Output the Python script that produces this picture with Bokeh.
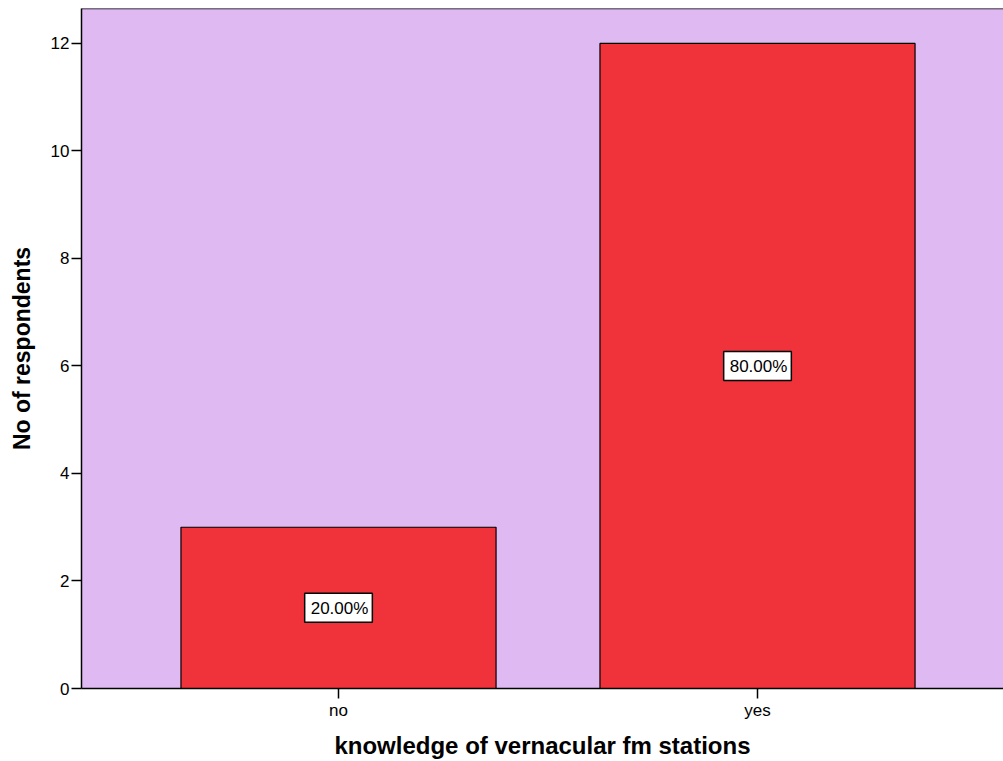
from bokeh.plotting import figure
from bokeh.models import (ColumnDataSource, Range1d, FixedTicker, Span)
from bokeh.core.properties import value
from bokeh.embed import file_html
from bokeh.resources import INLINE

# Survey counts
categories = ["no", "yes"]
respondents = [3, 12]
y_ticks = [0, 2, 4, 6, 8, 10, 12]

total = sum(respondents)
xpos = list(range(len(categories)))
pct_labels = [f"{v / total * 100:.2f}%" for v in respondents]
mid = [v / 2 for v in respondents]

source = ColumnDataSource(dict(x=xpos, top=respondents, mid=mid, label=pct_labels))

p = figure(width=1003, height=761, output_backend="svg", toolbar_location=None,
           x_range=Range1d(-0.6134, 1.5871), y_range=Range1d(0, 12.65),
           min_border_left=81, min_border_right=0, min_border_top=8,
           min_border_bottom=72)

p.background_fill_color = "#DFB9F2"
p.outline_line_color = None
p.grid.visible = False

p.vbar(x="x", top="top", width=0.752, bottom=0, source=source,
       fill_color="#F0323A", line_color="black", line_width=1.2)

# percentage boxes in the middle of each bar
p.text(x="x", y="mid", text="label", source=source,
       text_align="center", text_baseline="middle",
       text_font=value("Liberation Sans"), text_font_size=value("17px"),
       text_color="black", background_fill_color="white",
       border_line_color="black", border_line_width=1.5,
       padding=(6, 4, 6, 4))

# top border of the frame
p.add_layout(Span(location=12.65, dimension="width", line_color="black", line_width=1.5))

p.xaxis.ticker = FixedTicker(ticks=xpos)
p.xaxis.major_label_overrides = {i: c for i, c in zip(xpos, categories)}
p.xaxis.minor_tick_line_color = None
p.yaxis.ticker = FixedTicker(ticks=y_ticks)
p.yaxis.minor_tick_line_color = None

for ax in (p.xaxis, p.yaxis):
    ax.axis_line_color = "black"
    ax.axis_line_width = 1.5
    ax.major_tick_line_color = "black"
    ax.major_tick_line_width = 1.5
    ax.major_tick_in = 0
    ax.major_tick_out = 10
    ax.major_label_text_font = "Liberation Sans"
    ax.major_label_text_font_size = "17px"
    ax.major_label_text_color = "black"
    ax.axis_label_text_font = "Liberation Sans"
    ax.axis_label_text_font_style = "bold"
    ax.axis_label_text_color = "black"

p.xaxis.axis_label = "knowledge of vernacular fm stations"
p.yaxis.axis_label = "No of respondents"
p.xaxis.axis_label_text_font_size = "24px"
p.yaxis.axis_label_text_font_size = "23px"
p.xaxis.major_label_standoff = 2
p.yaxis.major_label_standoff = 2
p.xaxis.axis_label_standoff = 9
p.yaxis.axis_label_standoff = 13

open("out.html", "w").write(file_html(p, INLINE))
